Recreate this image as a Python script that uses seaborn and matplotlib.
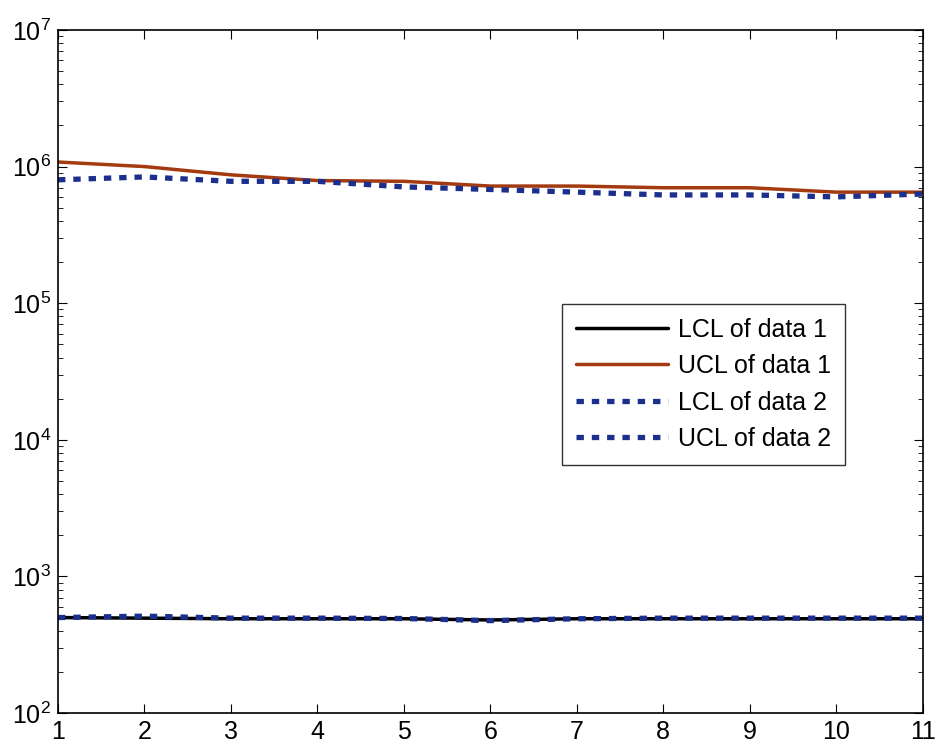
import pandas as pd
import seaborn as sns
import matplotlib.pyplot as plt

x = [1, 2, 3, 4, 5, 6, 7, 8, 9, 10, 11]
lcl_1 = [500, 495, 490, 490, 490, 480, 490, 490, 490, 490, 490]
ucl_1 = [1.08e6, 1.0e6, 0.87e6, 0.79e6, 0.78e6, 0.72e6, 0.72e6, 0.70e6, 0.70e6, 0.65e6, 0.65e6]
lcl_2 = [500, 512, 495, 495, 492, 475, 490, 495, 495, 495, 495]
ucl_2 = [0.80e6, 0.84e6, 0.78e6, 0.78e6, 0.71e6, 0.68e6, 0.65e6, 0.62e6, 0.62e6, 0.60e6, 0.63e6]
labels = ['LCL of data 1', 'UCL of data 1', 'LCL of data 2', 'UCL of data 2']

dados = pd.DataFrame({'x': x, labels[0]: lcl_1, labels[1]: ucl_1,
                      labels[2]: lcl_2, labels[3]: ucl_2})

sns.set_style("white")
plt.rcParams['font.family'] = ['Liberation Sans', 'DejaVu Sans']
plt.rcParams['text.color'] = 'black'
plt.rcParams['mathtext.fontset'] = 'custom'
plt.rcParams['mathtext.rm'] = 'Liberation Sans'

fig = plt.figure(figsize=(9.4, 7.49), dpi=100)
ax = fig.add_axes([0.0617, 0.048, 0.920, 0.912])

estilos = {
    labels[0]: dict(color='black', lw=2.5),
    labels[1]: dict(color='#a33a10', lw=2.5),
    labels[2]: dict(color='#1b2f8c', lw=3.8, dashes=(1.4, 1.5)),
    labels[3]: dict(color='#1b2f8c', lw=3.8, dashes=(1.4, 1.5)),
}
for nome in labels:
    st = estilos[nome]
    sns.lineplot(data=dados, x='x', y=nome, ax=ax, label=nome, color=st['color'],
                 linewidth=st['lw'], **({'dashes': st['dashes']} if 'dashes' in st else {}))

ax.set_yscale('log')
ax.set_ylim(1e2, 1e7)
ax.set_xlim(1, 11)
ax.set_xticks(range(1, 12))
ax.set_xlabel('')
ax.set_ylabel('')
for s in ax.spines.values():
    s.set_color('black')
    s.set_linewidth(1.2)
ax.tick_params(which='both', direction='in', left=True, bottom=True, top=True, right=True,
               labelsize=18, colors='black')
ax.tick_params(which='major', length=6.5, pad=5)
ax.tick_params(which='minor', length=3.5)
ax.tick_params(axis='x', which='minor', bottom=False, top=False)

leg = ax.legend(loc='upper left', bbox_to_anchor=(0.583, 0.599), fontsize=18,
                frameon=True, fancybox=False, edgecolor='black', handlelength=3.7,
                handletextpad=0.4, borderpad=0.55, borderaxespad=0, labelspacing=0.5)
leg.get_frame().set_linewidth(1.0)

plt.savefig('out.png', dpi=100)
plt.close()
